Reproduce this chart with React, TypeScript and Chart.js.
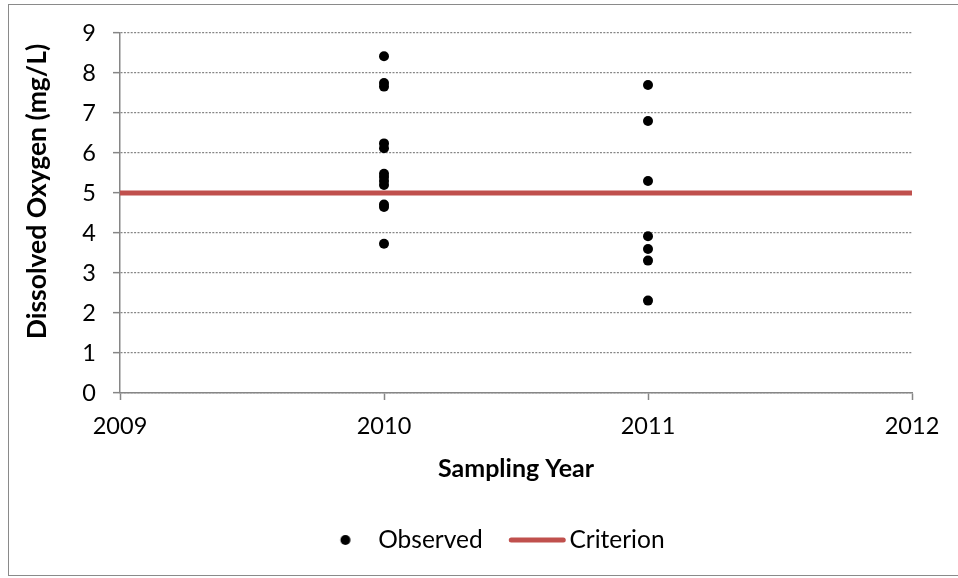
import { useEffect, useRef } from "react";
import { Chart, registerables } from "chart.js";

Chart.register(...registerables);

// ---- data ----
const observedYears = [
  2010, 2010, 2010, 2010, 2010, 2010, 2010, 2010, 2010, 2010, 2010, 2010,
  2011, 2011, 2011, 2011, 2011, 2011, 2011,
];
const observedValues = [
  8.42, 7.75, 7.66, 6.24, 6.12, 5.48, 5.4, 5.3, 5.2, 4.71, 4.65, 3.73,
  7.7, 6.8, 5.3, 3.92, 3.6, 3.31, 2.31,
];
const criterionYears = [2009, 2012];
const criterionValues = [5, 5];
const xTickValues = [2009, 2010, 2011, 2012];
const yTickValues = [0, 1, 2, 3, 4, 5, 6, 7, 8, 9];
const seriesNames = ["Observed", "Criterion"];
const xTitle = "Sampling Year";
const yTitle = "Dissolved Oxygen (mg/L)";

const RED = "#C0504D";
const GREY = "#868686";
const FONT = "Lato, 'Liberation Sans', sans-serif";

export default function App() {
  const canvasRef = useRef<HTMLCanvasElement | null>(null);

  useEffect(() => {
    const canvas = canvasRef.current;
    if (!canvas) return;

    const boxW = 64.5;
    // legend image for scatter points (bullet offset inside the box)
    const bullet = document.createElement("canvas");
    bullet.width = 60;
    bullet.height = 14;
    {
      const c = bullet.getContext("2d")!;
      c.fillStyle = "#000";
      c.beginPath();
      c.arc(30 + 11.75, 7, 5, 0, Math.PI * 2);
      c.fill();
    }
    const lineImg = document.createElement("canvas");
    lineImg.width = 100;
    lineImg.height = 14;
    {
      const c = lineImg.getContext("2d")!;
      c.strokeStyle = RED;
      c.lineWidth = 5;
      c.lineCap = "round";
      c.beginPath();
      c.moveTo(50 - 16.25 + 2.5, 7);
      c.lineTo(50 + 40.75 - 2.5, 7);
      c.stroke();
    }

    const yTitlePlugin = {
      id: "yTitlePlugin",
      afterDraw(ch: any) {
        const { ctx, chartArea } = ch;
        ctx.save();
        ctx.translate(chartArea.left - 83, chartArea.top + 158.5);
        ctx.rotate(-Math.PI / 2);
        ctx.font = `bold 26.5px ${FONT}`;
        ctx.fillStyle = "#000";
        ctx.textAlign = "center";
        ctx.textBaseline = "middle";
        ctx.fillText(yTitle, 0, 0);
        ctx.restore();
      },
    };

    const chart = new Chart(canvas, {
      type: "scatter",
      data: {
        datasets: [
          {
            label: seriesNames[0],
            data: observedYears.map((x, i) => ({ x, y: observedValues[i] })),
            backgroundColor: "#000",
            borderColor: "#000",
            pointRadius: 5,
            pointHoverRadius: 5,
            borderWidth: 0,
            order: 0,
          },
          {
            type: "line",
            label: seriesNames[1],
            data: criterionYears.map((x, i) => ({ x, y: criterionValues[i] })),
            borderColor: RED,
            backgroundColor: RED,
            borderWidth: 5,
            pointRadius: 0,
            fill: false,
            order: 1,
          } as any,
        ],
      },
      plugins: [yTitlePlugin],
      options: {
        animation: false,
        responsive: false,
        layout: { padding: { left: 8, top: 33, right: 0, bottom: 15.75 } },
        plugins: {
          tooltip: { enabled: false },
          legend: {
            position: "bottom",
            labels: {
              usePointStyle: true,
              pointStyleWidth: boxW,
              padding: 10,
              color: "#000",
              font: { family: FONT, size: 24.5 },
              generateLabels: () => [
                {
                  text: seriesNames[0],
                  pointStyle: bullet as any,
                  fillStyle: "#000",
                  strokeStyle: "#000",
                  lineWidth: 0,
                  hidden: false,
                  datasetIndex: 0,
                  fontColor: "#000",
                },
                {
                  text: seriesNames[1],
                  pointStyle: lineImg as any,
                  fillStyle: RED,
                  strokeStyle: RED,
                  lineWidth: 0,
                  hidden: false,
                  datasetIndex: 1,
                  fontColor: "#000",
                },
              ],
            },
          },
        },
        scales: {
          x: {
            type: "linear",
            min: xTickValues[0],
            max: xTickValues[xTickValues.length - 1],
            afterFit: (s: any) => {
              s.height = 124.75;
            },
            afterBuildTicks: (s: any) => {
              s.ticks = xTickValues.map((v) => ({ value: v }));
            },
            ticks: {
              color: "#000",
              font: { family: FONT, size: 23.5 },
              padding: 12,
              maxRotation: 0,
              autoSkip: false,
              callback: (v: any) => String(v),
            },
            grid: {
              drawOnChartArea: false,
              drawTicks: true,
              tickLength: 7,
              tickColor: GREY,
              tickWidth: 1.5,
            },
            border: { display: true, color: GREY, width: 1.5 },
            title: {
              display: true,
              text: xTitle,
              color: "#000",
              font: { family: FONT, size: 25, weight: "bold" },
              padding: { top: 0, bottom: 33.75 },
            },
          },
          y: {
            type: "linear",
            min: yTickValues[0],
            max: yTickValues[yTickValues.length - 1],
            afterFit: (s: any) => {
              s.width = 112;
            },
            afterBuildTicks: (s: any) => {
              s.ticks = yTickValues.map((v) => ({ value: v }));
            },
            ticks: {
              color: "#000",
              font: { family: FONT, size: 23.5 },
              padding: 17,
              callback: (v: any) => String(v),
            },
            grid: {
              drawOnChartArea: true,
              drawTicks: true,
              tickLength: 7,
              color: GREY,
              lineWidth: 1.3,
              tickColor: GREY,
              tickWidth: 1.5,
              tickBorderDash: [],
            } as any,
            border: { display: true, color: GREY, width: 1.5, dash: [2, 1.4] } as any,
            title: { display: false },
          },
          y2: {
            type: "linear",
            position: "right",
            display: true,
            afterFit: (s: any) => {
              s.width = 46;
            },
            grid: { display: false, drawOnChartArea: false, drawTicks: false },
            ticks: { display: false },
            border: { display: false },
          },
        },
      },
    });

    return () => chart.destroy();
  }, []);

  return (
    <div>
      <div
        style={{
          position: "fixed",
          left: 8,
          top: 4,
          width: 960,
          height: 572,
          border: "1.5px solid #8a8a8a",
          boxSizing: "border-box",
        }}
      />
      <canvas
        ref={canvasRef}
        width={958}
        height={578}
        style={{ position: "fixed", left: 0, top: 0, width: 958, height: 578 }}
      />
    </div>
  );
}
